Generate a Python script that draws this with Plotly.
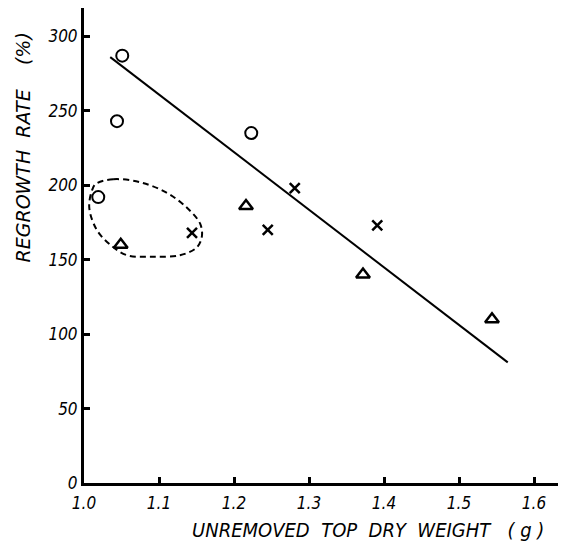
import plotly.graph_objects as go

# Data
circle_x = [1.051, 1.044, 1.223, 1.019]
circle_y = [287, 243, 235, 192]
tri_x = [1.049, 1.216, 1.372, 1.544]
tri_y = [160, 186, 140, 110]
cross_x = [1.144, 1.245, 1.281, 1.391]
cross_y = [168, 170, 198, 173]
fit_x = [1.035, 1.565]
fit_y = [286, 81]
loop_x = [1.016, 1.039, 1.075, 1.110, 1.137, 1.155, 1.157, 1.150, 1.128, 1.092, 1.057, 1.035, 1.017, 1.007, 1.011, 1.016]
loop_y = [201, 204, 202, 195, 185, 174, 165, 158, 153, 152, 153, 160, 170, 185, 197, 201]
x_ticks = [1.0, 1.1, 1.2, 1.3, 1.4, 1.5, 1.6]
x_tick_text = ["1.0", "1.1", "1.2", "1.3", "1.4", "1.5", "1.6"]
y_ticks = [0, 50, 100, 150, 200, 250, 300]

FONT = "DejaVu Sans Condensed, DejaVu Sans, sans-serif"
FONT_WIDE = "DejaVu Sans, sans-serif"

fig = go.Figure()
fig.add_trace(go.Scatter(x=loop_x, y=loop_y, mode="lines",
                         line=dict(color="black", width=2, dash="6px,4px", shape="spline"),
                         hoverinfo="skip"))
fig.add_trace(go.Scatter(x=fit_x, y=fit_y, mode="lines",
                         line=dict(color="black", width=2)))
fig.add_trace(go.Scatter(x=circle_x, y=circle_y, mode="markers",
                         marker=dict(symbol="circle-open", size=12, color="black",
                                     line=dict(width=2, color="black"))))
fig.add_trace(go.Scatter(x=tri_x, y=tri_y, mode="markers",
                         marker=dict(symbol="triangle-up-open", size=12, color="black",
                                     line=dict(width=2.5, color="black"))))
fig.add_trace(go.Scatter(x=cross_x, y=cross_y, mode="markers",
                         marker=dict(symbol="x-thin", size=10, color="black",
                                     line=dict(width=2.5, color="black"))))

fig.update_layout(
    width=558, height=538,
    margin=dict(l=76, r=8, t=0, b=63, autoexpand=False),
    paper_bgcolor="white", plot_bgcolor="white",
    showlegend=False,
    font=dict(family=FONT, size=15, color="black"),
    annotations=[
        dict(text="REGROWTH  RATE    (%)", xref="paper", yref="paper",
             x=-0.129, y=0.706, xanchor="center", yanchor="middle", textangle=-90,
             showarrow=False, font=dict(family=FONT_WIDE, size=19, color="black", style="italic")),
        dict(text="UNREMOVED  TOP  DRY  WEIGHT   ( g )", xref="paper", yref="paper",
             x=0.6, y=-0.099, xanchor="center", yanchor="middle",
             showarrow=False, font=dict(family=FONT, size=20, color="black", style="italic")),
    ],
)
fig.update_xaxes(range=[1.0, 1.632], tickvals=x_ticks, ticktext=x_tick_text,
                 showline=True, linewidth=3, linecolor="black", ticks="inside",
                 ticklen=6, tickwidth=3, tickcolor="black", showgrid=False, zeroline=False,
                 tickfont=dict(family=FONT, size=17, style="italic"), automargin=False,
                 ticklabelstandoff=3)
fig.update_yaxes(range=[0, 319], tickvals=y_ticks, ticktext=[str(t) for t in y_ticks],
                 showline=True, linewidth=3, linecolor="black", ticks="inside",
                 ticklen=6, tickwidth=3, tickcolor="black", showgrid=False, zeroline=False,
                 tickfont=dict(family=FONT, size=17, style="italic"), automargin=False)

fig.write_html("out.html")
